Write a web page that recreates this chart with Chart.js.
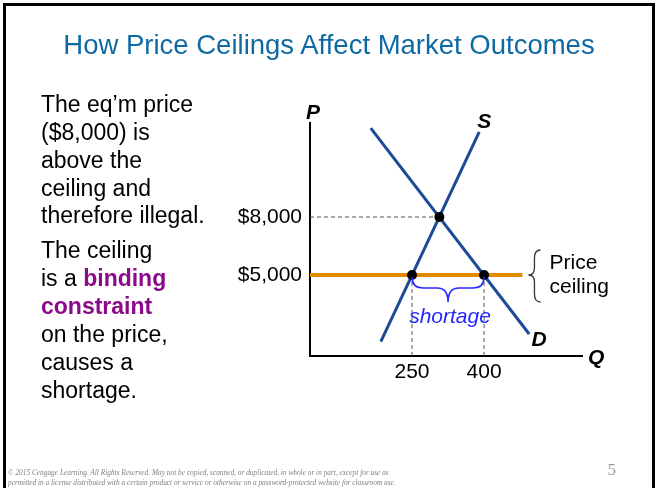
<!DOCTYPE html>
<html>
<head>
<meta charset="utf-8">
<script src="https://cdn.jsdelivr.net/npm/chart.js@4.4.1/dist/chart.umd.min.js"></script>
<style>
html,body{margin:0;padding:0;background:#fff;}
#wrap{position:relative;width:657px;height:488px;overflow:hidden;font-family:"Liberation Sans",Arial,sans-serif;}
#frame{position:absolute;left:3px;top:3px;width:646px;height:500px;border:3px solid #000;border-bottom:none;}
canvas{position:absolute;left:0;top:0;}
#title{position:absolute;left:4px;width:650px;top:29.8px;line-height:30px;font-size:27.5px;text-align:center;color:#106aa2;white-space:nowrap;}
.para{position:absolute;left:41px;font-size:23px;line-height:27.9px;color:#000;white-space:nowrap;}
#p1{top:90.8px;}
#p2{top:237.4px;}
.bind{color:#8a0a8a;font-weight:bold;}
#copy{position:absolute;left:8px;top:467.6px;font-family:"Liberation Serif","Times New Roman",serif;font-style:italic;font-size:7.35px;line-height:10px;color:#808080;white-space:nowrap;}
#pg{position:absolute;left:601.7px;width:20px;top:460px;text-align:center;font-family:"Liberation Serif","Times New Roman",serif;font-size:17px;line-height:20px;color:#999;}
</style>
</head>
<body>
<div id="wrap">
  <canvas id="c" width="657" height="488"></canvas>
  <div id="frame"></div>
  <div id="title">How Price Ceilings Affect Market Outcomes</div>
  <div class="para" id="p1">The eq’m price<br>($8,000) is<br>above the<br>ceiling and<br>therefore illegal.</div>
  <div class="para" id="p2">The ceiling<br>is a <span class="bind">binding</span><br><span class="bind">constraint</span><br>on the price,<br>causes a<br>shortage.</div>
  <div id="copy">© 2015 Cengage Learning. All Rights Reserved. May not be copied, scanned, or duplicated, in whole or in part, except for use as<br>permitted in a license distributed with a certain product or service or otherwise on a password-protected website for classroom use.</div>
  <div id="pg">5</div>
</div>
<script>
// ---- data ----
const priceTicks = [5000, 8000];
const priceTickLabels = ['$5,000', '$8,000'];
const qtyTicks = [250, 400];
const qtyTickLabels = ['250', '400'];

const supplyQ = [185, 390];
const supplyP = [1550, 12400];
const demandQ = [164, 494];
const demandP = [12600, 1950];

const ceilingPrice = 5000;
const ceilingQ = [37.5, 480];

const eqQ = 307;
const eqP = 8000;
const qSupplied = 250;
const qDemanded = 400;

const qRange = [37.5, 604];
const pRange = [810, 12862];

// ---- chart ----
const FONT = '"Liberation Sans", Arial, sans-serif';

const annot = {
  id: 'annot',
  afterDatasetsDraw(chart) {
    const {ctx, chartArea: a, scales: {x, y}} = chart;
    ctx.save();
    ctx.fillStyle = '#000';
    ctx.textBaseline = 'alphabetic';
    ctx.font = 'italic bold 21px ' + FONT;
    ctx.textAlign = 'center';
    ctx.fillText('P', a.left + 3, a.top - 4);
    ctx.textAlign = 'left';
    ctx.fillText('Q', a.right + 6, a.bottom + 7.5);
    ctx.textAlign = 'center';
    ctx.fillText('S', x.getPixelForValue(supplyQ[1]) + 5, y.getPixelForValue(supplyP[1]) - 3.5);
    ctx.fillText('D', x.getPixelForValue(demandQ[1]) + 10, y.getPixelForValue(demandP[1]) + 12.5);

    // shortage brace
    const x1 = x.getPixelForValue(qSupplied), x2 = x.getPixelForValue(qDemanded);
    const yc = y.getPixelForValue(ceilingPrice);
    const y0 = yc + 2, ym = yc + 13, tip = yc + 27, xm = (x1 + x2) / 2, q = 11;
    ctx.strokeStyle = '#2626ff';
    ctx.lineWidth = 1.6;
    ctx.beginPath();
    ctx.moveTo(x1, y0);
    ctx.quadraticCurveTo(x1, ym, x1 + q, ym);
    ctx.lineTo(xm - q, ym);
    ctx.quadraticCurveTo(xm, ym, xm, tip);
    ctx.quadraticCurveTo(xm, ym, xm + q, ym);
    ctx.lineTo(x2 - q, ym);
    ctx.quadraticCurveTo(x2, ym, x2, y0);
    ctx.stroke();
    ctx.fillStyle = '#2626ff';
    ctx.font = 'italic 21px ' + FONT;
    ctx.textAlign = 'center';
    ctx.fillText('shortage', xm + 2, yc + 48);

    // price ceiling brace
    const ex = x.getPixelForValue(ceilingQ[1]);
    const tx = ex + 6, bx = tx + 6, ex2 = bx + 6;
    ctx.strokeStyle = '#333';
    ctx.lineWidth = 1.3;
    ctx.beginPath();
    ctx.moveTo(ex2, yc - 25);
    ctx.quadraticCurveTo(bx, yc - 25, bx, yc - 17);
    ctx.lineTo(bx, yc - 7);
    ctx.quadraticCurveTo(bx, yc, tx, yc);
    ctx.quadraticCurveTo(bx, yc, bx, yc + 7);
    ctx.lineTo(bx, yc + 19);
    ctx.quadraticCurveTo(bx, yc + 27, ex2, yc + 27);
    ctx.stroke();
    ctx.fillStyle = '#000';
    ctx.font = '21px ' + FONT;
    ctx.textAlign = 'left';
    ctx.fillText('Price', tx + 21, yc - 5.7);
    ctx.fillText('ceiling', tx + 21, yc + 18.3);
    ctx.restore();
  }
};

const line = (qs, ps) => qs.map((q, i) => ({x: q, y: ps[i]}));
const guide = {showLine: true, borderColor: '#555', borderWidth: 1, borderDash: [4, 3], pointRadius: 0, order: 4};

new Chart(document.getElementById('c'), {
  type: 'scatter',
  data: {
    datasets: [
      {label: 'points', data: [{x: eqQ, y: eqP}, {x: qSupplied, y: ceilingPrice}, {x: qDemanded, y: ceilingPrice}],
       pointRadius: 5, pointBackgroundColor: '#000', pointBorderColor: '#000', pointBorderWidth: 0, showLine: false, order: 0},
      {label: 'Price ceiling', data: line(ceilingQ, [ceilingPrice, ceilingPrice]), showLine: true,
       borderColor: '#e08a00', borderWidth: 4, pointRadius: 0, order: 1},
      {label: 'S', data: line(supplyQ, supplyP), showLine: true, borderColor: '#1c4a97', borderWidth: 3, pointRadius: 0, order: 2},
      {label: 'D', data: line(demandQ, demandP), showLine: true, borderColor: '#1c4a97', borderWidth: 3, pointRadius: 0, order: 2},
      Object.assign({label: 'eq price', data: line([qRange[0], eqQ], [eqP, eqP])}, guide),
      Object.assign({label: 'qs', data: line([qSupplied, qSupplied], [ceilingPrice, pRange[0]])}, guide),
      Object.assign({label: 'qd', data: line([qDemanded, qDemanded], [ceilingPrice, pRange[0]])}, guide)
    ]
  },
  options: {
    responsive: false,
    animation: false,
    devicePixelRatio: 1,
    layout: {padding: {left: 0, top: 123, right: 75, bottom: 0}},
    plugins: {legend: {display: false}, tooltip: {enabled: false}},
    events: [],
    scales: {
      x: {
        type: 'linear', min: qRange[0], max: qRange[1],
        grid: {display: false, drawTicks: false},
        border: {display: true, color: '#000', width: 2},
        ticks: {autoSkip: false, maxRotation: 0, color: '#000', padding: 4, font: {size: 21, family: FONT},
                callback: v => qtyTickLabels[qtyTicks.indexOf(v)]},
        afterBuildTicks: s => { s.ticks = qtyTicks.map(v => ({value: v})); },
        afterFit: s => { s.height = 132; }
      },
      y: {
        type: 'linear', min: pRange[0], max: pRange[1],
        grid: {display: false, drawTicks: false},
        border: {display: true, color: '#000', width: 2},
        ticks: {autoSkip: false, color: '#000', padding: 8, font: {size: 21, family: FONT},
                callback: v => priceTickLabels[priceTicks.indexOf(v)]},
        afterBuildTicks: s => { s.ticks = priceTicks.map(v => ({value: v})); },
        afterFit: s => { s.width = 310; }
      }
    }
  },
  plugins: [annot]
});
</script>
</body>
</html>
